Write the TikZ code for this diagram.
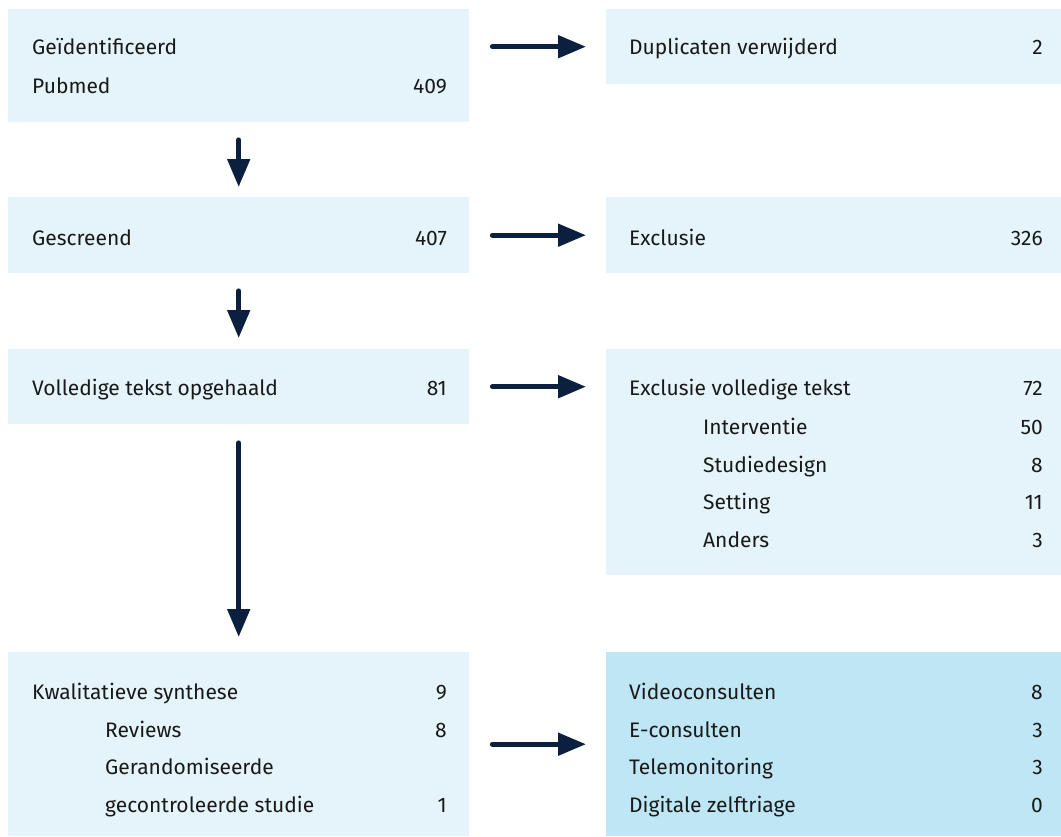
\documentclass[tikz,border=0pt]{standalone}
\usepackage{fontspec}
\setmainfont{Fira Sans}
\usetikzlibrary{arrows.meta}
\definecolor{lightbox}{HTML}{E5F4FA}
\definecolor{darkbox}{HTML}{BEE6F4}
\definecolor{navy}{HTML}{0B1F3E}
\begin{document}
\begin{tikzpicture}[x=1pt,y=-1pt]
	\tikzstyle{box}=[fill=lightbox,draw=none,inner sep=0pt,anchor=north west]
	\tikzstyle{leftbox}=[box,minimum width=461pt]
	\tikzstyle{rightbox}=[box,minimum width=455pt]
	\tikzstyle{label}=[anchor=base west,inner sep=0pt,text=black!90,font=\fontsize{21}{25}\selectfont]
	\tikzstyle{count}=[label,anchor=base east]
	\tikzstyle{arrow}=[draw=navy,line width=5pt,line cap=round,-{Triangle[length=28pt,width=22pt]}]

	\useasboundingbox (0,0) rectangle (1061,836);

	\node [leftbox,minimum height=113pt] (ident) at (8,9) {};
	\node [rightbox,minimum height=75pt] (dup) at (606,9) {};
	\node [leftbox,minimum height=76pt] (screen) at (8,197) {};
	\node [rightbox,minimum height=76pt] (excl) at (606,197) {};
	\node [leftbox,minimum height=75pt] (full) at (8,349) {};
	\node [rightbox,minimum height=226pt] (exfull) at (606,349) {};
	\node [leftbox,minimum height=184pt] (synth) at (8,652) {};
	\node [rightbox,minimum height=184pt,fill=darkbox] (types) at (606,652) {};

	\node [label] (identa) at (32,54) {Geïdentificeerd};
	\node [label] (identb) at (32,93) {Pubmed};
	\node [count] (identn) at (447,93) {409};
	\node [label] (dupa) at (629,54) {Duplicaten verwijderd};
	\node [count] (dupn) at (1043,54) {2};

	\node [label] (screena) at (32,245) {Gescreend};
	\node [count] (screenn) at (447,245) {407};
	\node [label] (excla) at (629,245) {Exclusie};
	\node [count] (excln) at (1043,245) {326};

	\node [label] (fulla) at (32,395) {Volledige tekst opgehaald};
	\node [count] (fulln) at (447,395) {81};
	\node [label] (exfulla) at (629,395) {Exclusie volledige tekst};
	\node [count] (exfulln) at (1043,395) {72};
	\node [label] (exfullb) at (703,434) {Interventie};
	\node [count] (exfullbn) at (1043,434) {50};
	\node [label] (exfullc) at (703,472) {Studiedesign};
	\node [count] (exfullcn) at (1043,472) {8};
	\node [label] (exfulld) at (703,509) {Setting};
	\node [count] (exfulldn) at (1043,509) {11};
	\node [label] (exfulle) at (703,547) {Anders};
	\node [count] (exfullen) at (1043,547) {3};

	\node [label] (syntha) at (32,699) {Kwalitatieve synthese};
	\node [count] (synthan) at (447,699) {9};
	\node [label] (synthb) at (105,737) {Reviews};
	\node [count] (synthbn) at (447,737) {8};
	\node [label] (synthc) at (105,774) {Gerandomiseerde};
	\node [label] (synthd) at (105,812) {gecontroleerde studie};
	\node [count] (synthdn) at (447,812) {1};

	\node [label] (typesa) at (629,699) {Videoconsulten};
	\node [count] (typesan) at (1043,699) {8};
	\node [label] (typesb) at (629,737) {E-consulten};
	\node [count] (typesbn) at (1043,737) {3};
	\node [label] (typesc) at (629,774) {Telemonitoring};
	\node [count] (typescn) at (1043,774) {3};
	\node [label] (typesd) at (629,812) {Digitale zelftriage};
	\node [count] (typesdn) at (1043,812) {0};

	\path[arrow,shorten <=23pt,shorten >=20pt] (ident.east |- dup.west) -- (dup.west);
	\path[arrow,shorten <=23pt,shorten >=20pt] (screen.east) -- (excl.west);
	\path[arrow,shorten <=23pt,shorten >=20pt] (full.east) -- (full.east -| exfull.west);
	\path[arrow,shorten <=23pt,shorten >=20pt] (synth.east) -- (types.west);

	\path[arrow,shorten <=17.5pt,shorten >=10pt] (ident.south) -- (screen.north);
	\path[arrow,shorten <=17.5pt,shorten >=11pt] (screen.south) -- (full.north);
	\path[arrow,shorten <=18.5pt,shorten >=15pt] (full.south) -- (synth.north);
\end{tikzpicture}
\end{document}
